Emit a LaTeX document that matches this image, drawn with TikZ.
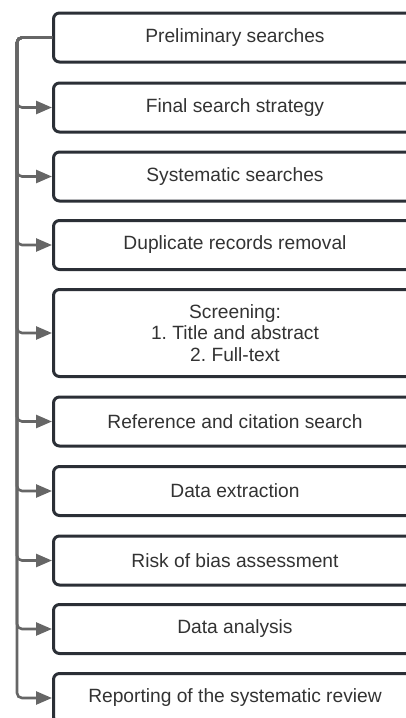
\documentclass[tikz,border=0pt]{standalone}
\usepackage{fontspec}
\setmainfont{Liberation Sans}
\usepackage{xcolor}
\usetikzlibrary{arrows.meta}
\definecolor{boxline}{HTML}{2B2F36}
\definecolor{linkgray}{HTML}{666666}
\definecolor{labeltext}{HTML}{333333}
\frenchspacing

\begin{document}
\begin{tikzpicture}[x=1pt,y=1pt,font=\fontsize{19.2}{21.7}\selectfont,
  stage/.style={draw=boxline,fill=white,line width=3pt,rounded corners=6pt,
    minimum width=363pt,inner sep=2pt,align=center,text=labeltext},
  link/.style={draw=linkgray,line width=2.6pt,rounded corners=5pt,
    -{Triangle[length=16pt,width=13pt]}}]
  \clip (0,0) rectangle (406,-718);
  \foreach \t/\y/\h [count=\i] in {Preliminary searches/37.5/49,
      Final search strategy/107.5/49, Systematic searches/176.5/49,
      Duplicate records removal/245/49,
      {Screening:\\1. Title and abstract\\2. Full-text}/333/87,
      Reference and citation search/421.5/49, Data extraction/491/49,
      Risk of bias assessment/560.5/49, Data analysis/629/49,
      Reporting of the systematic review/698/49}{
    \node[stage,minimum height=\h pt] (s\i) at (235,-\y) {\t};}
  \foreach \i in {2,...,10}{
    \draw[link] (s1.west) -- ++(-35,0) |- (s\i.west);}
\end{tikzpicture}
\end{document}
